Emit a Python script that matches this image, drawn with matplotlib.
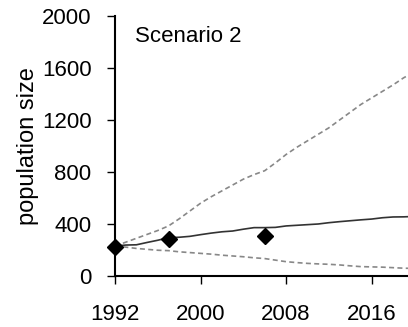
import numpy as np
import matplotlib.pyplot as plt

plt.rcParams['font.family'] = ['Liberation Sans', 'DejaVu Sans']

# projected population, scenario 2
years = np.arange(1992, 2021)
median = [230, 238, 240, 258, 275, 295, 298, 305, 318, 330, 340, 346, 360, 372, 372,
          374, 385, 390, 395, 400, 410, 418, 425, 432, 438, 448, 454, 455, 458]
upper = [230, 260, 290, 320, 350, 385, 440, 500, 560, 610, 655, 700, 745, 780, 810,
         870, 935, 990, 1040, 1090, 1140, 1200, 1260, 1320, 1370, 1420, 1470, 1525, 1570]
lower = [230, 222, 212, 205, 198, 195, 186, 180, 174, 168, 160, 154, 148, 140, 134,
         122, 110, 103, 97, 93, 90, 85, 78, 72, 70, 68, 64, 60, 58]

# observed counts
obs_years = [1992, 1997, 2006]
obs_counts = [225, 285, 305]

fig = plt.figure(figsize=(4.08, 3.27), dpi=100)
ax = fig.add_axes([0.282, 0.156, 0.718, 0.795])

ax.plot(years, upper, color='#888888', lw=1.2, ls=(0, (3, 2)))
ax.plot(years, lower, color='#888888', lw=1.2, ls=(0, (3, 2)))
ax.plot(years, median, color='#333333', lw=1.2)
ax.plot(obs_years, obs_counts, 'D', color='black', ms=8, clip_on=False, zorder=5)

ax.set_xlim(1992, 2019.4)
ax.set_ylim(0, 2000)
ax.set_xticks([1992, 2000, 2008, 2016])
ax.set_yticks([0, 400, 800, 1200, 1600, 2000])

for s in ['top', 'right']:
    ax.spines[s].set_visible(False)
for s in ['left', 'bottom']:
    ax.spines[s].set_linewidth(1.5)

ax.tick_params(axis='x', direction='out', length=6, width=1, labelsize=16, pad=14)
ax.tick_params(axis='y', direction='out', length=6, width=1, labelsize=16, pad=11)

ax.set_ylabel('population size', fontsize=17, labelpad=2)
ax.text(0.068, 0.92, 'Scenario 2', transform=ax.transAxes, fontsize=16, va='center')

fig.savefig('out.png', dpi=100)
